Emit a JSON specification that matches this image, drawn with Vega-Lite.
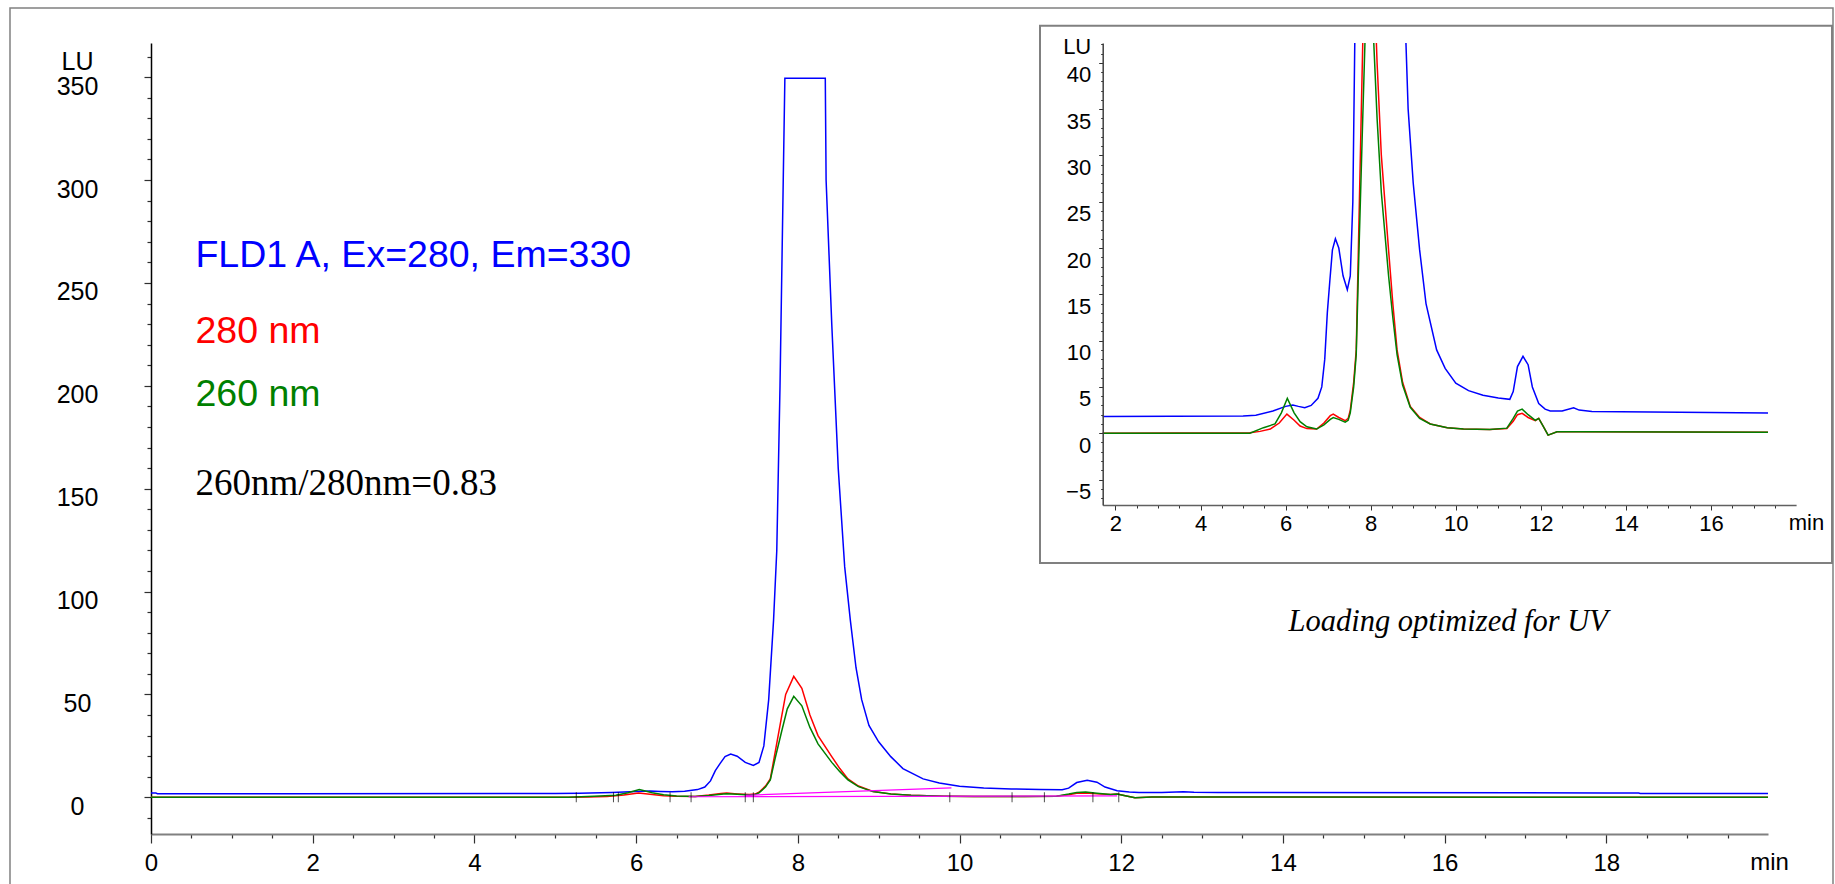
{
  "$schema": "https://vega.github.io/schema/vega-lite/v6.json",
  "width": 1617,
  "height": 791,
  "autosize": "none",
  "padding": {"left": 151, "top": 43, "right": 67, "bottom": 50},
  "background": "white",
  "config": {
    "view": {"stroke": null},
    "font": "Liberation Sans",
    "axis": {"grid": false, "labelFont": "Liberation Sans", "titleFont": "Liberation Sans", "labelColor": "black", "titleColor": "black", "titleFontWeight": "normal", "labelOverlap": false, "labelFlush": false, "labelBound": false}
  },
  "datasets": {
    "signal": [
      {"s": "FLD", "t": 0, "v": 2.1}, {"s": "FLD", "t": 0.06, "v": 2.1}, {"s": "FLD", "t": 0.08, "v": 1.8}, {"s": "FLD", "t": 1.7, "v": 1.8},
      {"s": "FLD", "t": 5.0, "v": 1.85}, {"s": "FLD", "t": 5.3, "v": 1.95}, {"s": "FLD", "t": 5.7, "v": 2.4}, {"s": "FLD", "t": 6.0, "v": 2.9},
      {"s": "FLD", "t": 6.17, "v": 3.05}, {"s": "FLD", "t": 6.3, "v": 2.9}, {"s": "FLD", "t": 6.45, "v": 2.75}, {"s": "FLD", "t": 6.6, "v": 3.0},
      {"s": "FLD", "t": 6.76, "v": 3.77}, {"s": "FLD", "t": 6.85, "v": 5.0}, {"s": "FLD", "t": 6.92, "v": 8.0}, {"s": "FLD", "t": 6.98, "v": 13.0},
      {"s": "FLD", "t": 7.04, "v": 16.5}, {"s": "FLD", "t": 7.1, "v": 19.8}, {"s": "FLD", "t": 7.17, "v": 21.0}, {"s": "FLD", "t": 7.25, "v": 20.0},
      {"s": "FLD", "t": 7.35, "v": 17.0}, {"s": "FLD", "t": 7.45, "v": 15.5}, {"s": "FLD", "t": 7.52, "v": 17.0}, {"s": "FLD", "t": 7.58, "v": 25},
      {"s": "FLD", "t": 7.64, "v": 47.5}, {"s": "FLD", "t": 7.7, "v": 86}, {"s": "FLD", "t": 7.74, "v": 120}, {"s": "FLD", "t": 7.78, "v": 200},
      {"s": "FLD", "t": 7.82, "v": 300}, {"s": "FLD", "t": 7.84, "v": 349.5}, {"s": "FLD", "t": 8.34, "v": 349.5}, {"s": "FLD", "t": 8.35, "v": 300},
      {"s": "FLD", "t": 8.42, "v": 230}, {"s": "FLD", "t": 8.5, "v": 160}, {"s": "FLD", "t": 8.58, "v": 112}, {"s": "FLD", "t": 8.65, "v": 86},
      {"s": "FLD", "t": 8.72, "v": 63}, {"s": "FLD", "t": 8.79, "v": 47.5}, {"s": "FLD", "t": 8.88, "v": 35}, {"s": "FLD", "t": 9.0, "v": 27},
      {"s": "FLD", "t": 9.15, "v": 19.8}, {"s": "FLD", "t": 9.3, "v": 14}, {"s": "FLD", "t": 9.55, "v": 9.0}, {"s": "FLD", "t": 9.75, "v": 7.0},
      {"s": "FLD", "t": 10.0, "v": 5.4}, {"s": "FLD", "t": 10.3, "v": 4.6}, {"s": "FLD", "t": 10.64, "v": 4.1}, {"s": "FLD", "t": 11.0, "v": 3.8},
      {"s": "FLD", "t": 11.27, "v": 3.66}, {"s": "FLD", "t": 11.35, "v": 4.5}, {"s": "FLD", "t": 11.45, "v": 7.2}, {"s": "FLD", "t": 11.58, "v": 8.3},
      {"s": "FLD", "t": 11.7, "v": 7.4}, {"s": "FLD", "t": 11.8, "v": 5.0}, {"s": "FLD", "t": 11.95, "v": 3.2}, {"s": "FLD", "t": 12.1, "v": 2.6},
      {"s": "FLD", "t": 12.22, "v": 2.4}, {"s": "FLD", "t": 12.5, "v": 2.4}, {"s": "FLD", "t": 12.77, "v": 2.75}, {"s": "FLD", "t": 12.9, "v": 2.5},
      {"s": "FLD", "t": 13.2, "v": 2.35}, {"s": "FLD", "t": 18.0, "v": 2.15}, {"s": "FLD", "t": 18.4, "v": 2.1}, {"s": "FLD", "t": 18.42, "v": 1.9},
      {"s": "FLD", "t": 20, "v": 1.9},

      {"s": "280 nm", "t": 0, "v": 0}, {"s": "280 nm", "t": 1.7, "v": 0}, {"s": "280 nm", "t": 5.16, "v": 0.05}, {"s": "280 nm", "t": 5.4, "v": 0.2},
      {"s": "280 nm", "t": 5.64, "v": 0.45}, {"s": "280 nm", "t": 5.85, "v": 1.1}, {"s": "280 nm", "t": 6.03, "v": 2.07}, {"s": "280 nm", "t": 6.2, "v": 1.4},
      {"s": "280 nm", "t": 6.34, "v": 0.78}, {"s": "280 nm", "t": 6.5, "v": 0.5}, {"s": "280 nm", "t": 6.73, "v": 0.45}, {"s": "280 nm", "t": 6.9, "v": 1.1},
      {"s": "280 nm", "t": 7.05, "v": 1.9}, {"s": "280 nm", "t": 7.12, "v": 2.07}, {"s": "280 nm", "t": 7.25, "v": 1.7}, {"s": "280 nm", "t": 7.4, "v": 1.35},
      {"s": "280 nm", "t": 7.47, "v": 1.6}, {"s": "280 nm", "t": 7.52, "v": 2.5}, {"s": "280 nm", "t": 7.6, "v": 5.5}, {"s": "280 nm", "t": 7.66, "v": 9.0},
      {"s": "280 nm", "t": 7.71, "v": 19.8}, {"s": "280 nm", "t": 7.78, "v": 35}, {"s": "280 nm", "t": 7.85, "v": 50}, {"s": "280 nm", "t": 7.95, "v": 58.8},
      {"s": "280 nm", "t": 8.05, "v": 53}, {"s": "280 nm", "t": 8.15, "v": 40}, {"s": "280 nm", "t": 8.25, "v": 30}, {"s": "280 nm", "t": 8.42, "v": 19.8},
      {"s": "280 nm", "t": 8.52, "v": 14}, {"s": "280 nm", "t": 8.62, "v": 9.0}, {"s": "280 nm", "t": 8.75, "v": 5.5}, {"s": "280 nm", "t": 8.93, "v": 2.9},
      {"s": "280 nm", "t": 9.15, "v": 1.7}, {"s": "280 nm", "t": 9.4, "v": 1.0}, {"s": "280 nm", "t": 9.8, "v": 0.6}, {"s": "280 nm", "t": 10.18, "v": 0.45},
      {"s": "280 nm", "t": 10.8, "v": 0.4}, {"s": "280 nm", "t": 11.2, "v": 0.5}, {"s": "280 nm", "t": 11.35, "v": 1.3}, {"s": "280 nm", "t": 11.45, "v": 2.0},
      {"s": "280 nm", "t": 11.56, "v": 2.15}, {"s": "280 nm", "t": 11.7, "v": 1.7}, {"s": "280 nm", "t": 11.87, "v": 1.35}, {"s": "280 nm", "t": 11.95, "v": 1.6},
      {"s": "280 nm", "t": 12.05, "v": 0.8}, {"s": "280 nm", "t": 12.17, "v": -0.2}, {"s": "280 nm", "t": 12.38, "v": 0.15}, {"s": "280 nm", "t": 12.93, "v": 0.15},
      {"s": "280 nm", "t": 18.0, "v": 0.1}, {"s": "280 nm", "t": 20, "v": 0.1},

      {"s": "260 nm", "t": 0, "v": 0}, {"s": "260 nm", "t": 1.7, "v": 0}, {"s": "260 nm", "t": 5.16, "v": 0}, {"s": "260 nm", "t": 5.48, "v": 0.6},
      {"s": "260 nm", "t": 5.75, "v": 1.0}, {"s": "260 nm", "t": 5.9, "v": 2.2}, {"s": "260 nm", "t": 6.04, "v": 3.77}, {"s": "260 nm", "t": 6.2, "v": 2.2},
      {"s": "260 nm", "t": 6.34, "v": 1.25}, {"s": "260 nm", "t": 6.5, "v": 0.7}, {"s": "260 nm", "t": 6.73, "v": 0.45}, {"s": "260 nm", "t": 6.9, "v": 0.9},
      {"s": "260 nm", "t": 7.05, "v": 1.5}, {"s": "260 nm", "t": 7.12, "v": 1.7}, {"s": "260 nm", "t": 7.25, "v": 1.5}, {"s": "260 nm", "t": 7.4, "v": 1.2},
      {"s": "260 nm", "t": 7.47, "v": 1.4}, {"s": "260 nm", "t": 7.52, "v": 2.2}, {"s": "260 nm", "t": 7.6, "v": 5.0}, {"s": "260 nm", "t": 7.66, "v": 8.5},
      {"s": "260 nm", "t": 7.72, "v": 19}, {"s": "260 nm", "t": 7.8, "v": 32}, {"s": "260 nm", "t": 7.87, "v": 43}, {"s": "260 nm", "t": 7.95, "v": 49.1},
      {"s": "260 nm", "t": 8.05, "v": 44.5}, {"s": "260 nm", "t": 8.15, "v": 34}, {"s": "260 nm", "t": 8.25, "v": 26}, {"s": "260 nm", "t": 8.42, "v": 17},
      {"s": "260 nm", "t": 8.52, "v": 12.5}, {"s": "260 nm", "t": 8.62, "v": 8.5}, {"s": "260 nm", "t": 8.75, "v": 5.2}, {"s": "260 nm", "t": 8.93, "v": 2.8},
      {"s": "260 nm", "t": 9.15, "v": 1.6}, {"s": "260 nm", "t": 9.4, "v": 1.0}, {"s": "260 nm", "t": 9.8, "v": 0.6}, {"s": "260 nm", "t": 10.18, "v": 0.45},
      {"s": "260 nm", "t": 10.8, "v": 0.4}, {"s": "260 nm", "t": 11.2, "v": 0.55}, {"s": "260 nm", "t": 11.35, "v": 1.6}, {"s": "260 nm", "t": 11.45, "v": 2.4},
      {"s": "260 nm", "t": 11.56, "v": 2.6}, {"s": "260 nm", "t": 11.7, "v": 2.0}, {"s": "260 nm", "t": 11.87, "v": 1.4}, {"s": "260 nm", "t": 11.95, "v": 1.6},
      {"s": "260 nm", "t": 12.05, "v": 0.8}, {"s": "260 nm", "t": 12.17, "v": -0.2}, {"s": "260 nm", "t": 12.38, "v": 0.15}, {"s": "260 nm", "t": 12.93, "v": 0.15},
      {"s": "260 nm", "t": 18.0, "v": 0.1}, {"s": "260 nm", "t": 20, "v": 0.1}
    ],
    "baselines": [
      {"id": "a", "t": 7.35, "v": 1.0}, {"id": "a", "t": 9.9, "v": 4.6},
      {"id": "b", "t": 6.65, "v": 0.3}, {"id": "b", "t": 11.95, "v": 0.7}
    ],
    "events": [
      {"t": 5.26}, {"t": 5.72}, {"t": 5.78}, {"t": 6.42}, {"t": 6.68}, {"t": 7.35}, {"t": 7.45}, {"t": 9.88}, {"t": 10.65}, {"t": 11.05}, {"t": 11.65}, {"t": 11.97}
    ]
  },
  "layer": [
    {
      "data": {"values": [{}]},
      "mark": {"type": "rect", "filled": false, "stroke": "#808080", "strokeWidth": 1.5, "clip": false},
      "encoding": {
        "x": {"datum": -1.744, "type": "quantitative", "scale": {"domain": [0, 20], "nice": false, "zero": false},
          "axis": {"orient": "bottom", "title": null, "labels": false, "domain": false,
            "values": [0.5,1,1.5,2.5,3,3.5,4.5,5,5.5,6.5,7,7.5,8.5,9,9.5,10.5,11,11.5,12.5,13,13.5,14.5,15,15.5,16.5,17,17.5,18.5,19,19.5],
            "tickSize": 4, "tickColor": "#303030", "tickWidth": 1.2}},
        "x2": {"datum": 20.804},
        "y": {"datum": 383.6, "type": "quantitative", "scale": {"domain": [-17.8, 366.6], "nice": false, "zero": false},
          "axis": {"orient": "left", "title": null, "labels": false, "domain": false,
            "values": [-10,10,20,30,40,60,70,80,90,110,120,130,140,160,170,180,190,210,220,230,240,260,270,280,290,310,320,330,340,360],
            "tickSize": 4, "tickColor": "#303030", "tickWidth": 1.2}},
        "y2": {"datum": -60}
      }
    },
    {
      "layer": [
        {
          "data": {"name": "signal"},
          "mark": {"type": "line", "strokeWidth": 1.5, "clip": true},
          "encoding": {
            "x": {"field": "t", "type": "quantitative", "scale": {"domain": [0, 20], "nice": false, "zero": false},
              "axis": {"orient": "bottom", "title": "min", "titleAngle": 0, "titleX": 1618, "titleY": 28, "titleAlign": "center", "titleBaseline": "middle", "titleFontSize": 24,
                "values": [0,2,4,6,8,10,12,14,16,18],
                "format": "d", "labelOverlap": false, "labelFlush": false,
                "labelFontSize": 24, "labelPadding": 8, "tickSize": 9,
                "tickColor": "#303030", "tickWidth": 1.2, "domainColor": "#808080", "domainWidth": 2.2}},
            "y": {"field": "v", "type": "quantitative", "scale": {"domain": [-17.8, 366.6], "nice": false, "zero": false},
              "axis": {"orient": "left", "title": "LU", "titleAngle": 0, "titleX": -74, "titleY": 18, "titleAlign": "center", "titleBaseline": "middle", "titleFontSize": 25,
                "values": [0,50,100,150,200,250,300,350],
                "format": "d", "labelOverlap": false,
                "labelFontSize": 25, "labelPadding": 67, "tickSize": 7,
                "labelAlign": "center", "labelBaseline": "middle", "labelOffset": 9,
                "tickColor": "#303030", "tickWidth": 1.2, "domainColor": "#000000", "domainWidth": 1.5}},
            "color": {"field": "s", "type": "nominal", "scale": {"domain": ["FLD", "280 nm", "260 nm"], "range": ["#0000ff", "#ff0000", "#008000"]}, "legend": null}
          }
        },
        {
          "data": {"name": "baselines"},
          "mark": {"type": "line", "stroke": "#ff00ff", "strokeWidth": 1.2, "clip": true},
          "encoding": {
            "x": {"field": "t", "type": "quantitative"},
            "y": {"field": "v", "type": "quantitative"},
            "detail": {"field": "id"}
          }
        },
        {
          "data": {"name": "events"},
          "mark": {"type": "tick", "orient": "vertical", "color": "#000000", "size": 10, "thickness": 1},
          "encoding": {
            "x": {"field": "t", "type": "quantitative"},
            "y": {"datum": 0, "type": "quantitative"}
          }
        },
        {
          "data": {"values": [{}]},
          "mark": {"type": "text", "align": "left", "baseline": "middle", "fontSize": 37.5, "font": "Liberation Sans", "color": "#0000ff", "text": "FLD1 A, Ex=280, Em=330"},
          "encoding": {"x": {"datum": 0.55, "type": "quantitative"}, "y": {"datum": 263.0, "type": "quantitative"}}
        },
        {
          "data": {"values": [{}]},
          "mark": {"type": "text", "align": "left", "baseline": "middle", "fontSize": 37.5, "font": "Liberation Sans", "color": "#ff0000", "text": "280 nm"},
          "encoding": {"x": {"datum": 0.55, "type": "quantitative"}, "y": {"datum": 226.3, "type": "quantitative"}}
        },
        {
          "data": {"values": [{}]},
          "mark": {"type": "text", "align": "left", "baseline": "middle", "fontSize": 37.5, "font": "Liberation Sans", "color": "#008000", "text": "260 nm"},
          "encoding": {"x": {"datum": 0.55, "type": "quantitative"}, "y": {"datum": 195.6, "type": "quantitative"}}
        },
        {
          "data": {"values": [{}]},
          "mark": {"type": "text", "align": "left", "baseline": "middle", "fontSize": 37, "font": "Liberation Serif", "color": "#000000", "text": "260nm/280nm=0.83"},
          "encoding": {"x": {"datum": 0.55, "type": "quantitative"}, "y": {"datum": 152.4, "type": "quantitative"}}
        },
        {
          "data": {"values": [{}]},
          "mark": {"type": "text", "align": "left", "baseline": "middle", "fontSize": 30.5, "font": "Liberation Serif", "fontStyle": "italic", "color": "#000000", "text": "Loading optimized for UV"},
          "encoding": {"x": {"datum": 14.07, "type": "quantitative"}, "y": {"datum": 85, "type": "quantitative"}}
        }
      ]
    },
    {
      "data": {"values": [{}]},
      "mark": {"type": "rect", "fill": "#ffffff", "stroke": "#808080", "strokeWidth": 2, "clip": false},
      "encoding": {
        "x": {"datum": 0.226, "type": "quantitative", "scale": {"domain": [1.7, 18.0], "range": [951.7, 1645.1], "nice": false, "zero": false},
          "axis": {"orient": "bottom", "offset": -329, "zindex": 1, "title": null, "labels": false, "domain": false,
            "values": [2.5,3,3.5,4.5,5,5.5,6.5,7,7.5,8.5,9,9.5,10.5,11,11.5,12.5,13,13.5,14.5,15,15.5,16.5,17,17.5],
            "tickSize": 3, "tickColor": "#303030"}},
        "x2": {"datum": 18.844},
        "y": {"datum": 44.01, "type": "quantitative", "scale": {"domain": [-7.75, 42.14], "range": [462, 0], "nice": false, "zero": false},
          "axis": {"orient": "left", "offset": -951.7, "zindex": 1, "title": null, "labels": false, "domain": false,
            "values": [-7,-6,-4,-3,-2,-1,1,2,3,4,6,7,8,9,11,12,13,14,16,17,18,19,21,22,23,24,26,27,28,29,31,32,33,34,36,37,38,39,41,42],
            "tickSize": 2, "tickColor": "#303030"}},
        "y2": {"datum": -14.02}
      }
    },
    {
      "data": {"name": "signal"},
      "transform": [{"filter": "datum.t >= 1.7 && datum.t <= 18"}],
      "mark": {"type": "line", "strokeWidth": 1.5, "clip": true},
      "encoding": {
        "x": {"field": "t", "type": "quantitative", "scale": {"domain": [1.7, 18.0], "range": [951.7, 1645.1], "nice": false, "zero": false},
          "axis": {"orient": "bottom", "offset": -329, "zindex": 1, "title": "min", "titleAngle": 0, "titleX": 1655, "titleY": 17, "titleAlign": "center", "titleBaseline": "middle", "titleFontSize": 22,
            "values": [2,4,6,8,10,12,14,16],
            "format": "d", "labelOverlap": false, "labelFlush": false,
            "labelFontSize": 22, "labelPadding": 3, "tickSize": 5,
            "tickColor": "#303030", "domainColor": "#606060", "domainWidth": 1.5}},
        "y": {"field": "v", "type": "quantitative", "scale": {"domain": [-7.75, 42.14], "range": [462, 0], "nice": false, "zero": false},
          "axis": {"orient": "left", "offset": -951.7, "zindex": 1, "title": "LU", "titleAngle": 0, "titleX": -26, "titleY": 3, "titleAlign": "center", "titleBaseline": "middle", "titleFontSize": 22,
            "values": [-5,0,5,10,15,20,25,30,35,40],
            "format": "d", "labelOverlap": false,
            "labelFontSize": 22, "labelPadding": 8, "tickSize": 4,
            "labelAlign": "right", "labelBaseline": "middle", "labelOffset": 12,
            "tickColor": "#303030", "domainColor": "#404040", "domainWidth": 1.5}},
        "color": {"field": "s", "type": "nominal", "scale": {"domain": ["FLD", "280 nm", "260 nm"], "range": ["#0000ff", "#ff0000", "#008000"]}, "legend": null}
      }
    }
  ],
  "resolve": {"scale": {"x": "independent", "y": "independent", "color": "shared"}, "axis": {"x": "independent", "y": "independent"}}
}
